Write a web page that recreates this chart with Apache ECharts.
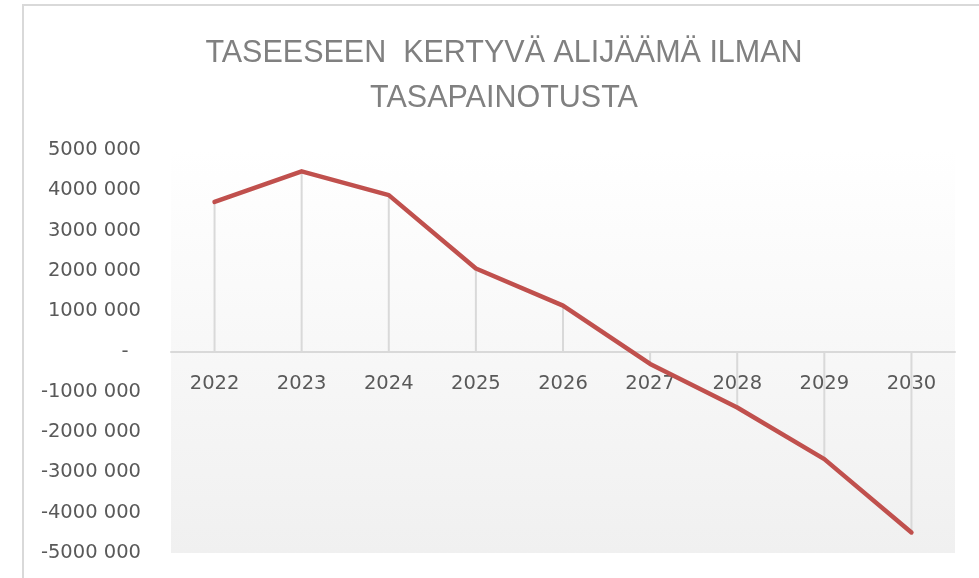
<!DOCTYPE html>
<html>
<head>
<meta charset="utf-8">
<script src="https://cdn.jsdelivr.net/npm/echarts@6/dist/echarts.min.js"></script>
<style>
  html, body { margin: 0; padding: 0; background: #ffffff; }
  #chart { width: 979px; height: 578px; }
</style>
</head>
<body>
<div id="chart"></div>
<script>
// Cumulative deficit on the balance sheet without balancing measures
const years = ['2022', '2023', '2024', '2025', '2026', '2027', '2028', '2029', '2030'];
const deficit = [3710000, 4470000, 3880000, 2060000, 1140000, -310000, -1390000, -2670000, -4490000];
const titleText = 'TASEESEEN  KERTYVÄ ALIJÄÄMÄ ILMAN\nTASAPAINOTUSTA';

// "5000 000", "-1000 000", zero shown as a dash
function formatTick(v) {
  if (v === 0) return '-  ';
  const sign = v < 0 ? '-' : '';
  const a = Math.abs(v);
  const thousands = Math.floor(a / 1000);
  const rest = String(a % 1000).padStart(3, '0');
  return sign + thousands + ' ' + rest;
}

const W = 979, H = 578;
const gridTop = 150, gridBottom = 25;
const plotHeight = H - gridTop - gridBottom;
const yMin = -5000000, yMax = 5000000;
// the category axis sits on the zero line, labels just below it
const zeroOffset = -plotHeight * (0 - yMin) / (yMax - yMin);

const chart = echarts.init(document.getElementById('chart'), null, { renderer: 'canvas', width: W, height: H });
chart.setOption({
  animation: false,
  backgroundColor: '#ffffff',
  title: {
    text: titleText,
    left: 499,
    top: 26,
    textAlign: 'center',
    textStyle: {
      fontFamily: 'Liberation Sans',
      fontWeight: 'normal',
      fontSize: 30.5,
      lineHeight: 45,
      color: '#808080'
    }
  },
  graphic: [{
    type: 'rect',
    shape: { x: 23, y: 5, width: 960, height: 600 },
    style: { fill: 'none', stroke: '#d9d9d9', lineWidth: 2 },
    silent: true,
    z: -1
  }],
  grid: {
    left: 171,
    right: 24,
    top: gridTop,
    bottom: gridBottom,
    outerBoundsMode: 'none',
    containLabel: false,
    show: true,
    borderWidth: 0,
    backgroundColor: {
      type: 'linear', x: 0, y: 0, x2: 0, y2: 1,
      colorStops: [
        { offset: 0, color: '#ffffff' },
        { offset: 1, color: '#f0f0f0' }
      ]
    }
  },
  xAxis: {
    type: 'category',
    data: years,
    boundaryGap: true,
    position: 'bottom',
    offset: zeroOffset,
    axisLine: { onZero: false, lineStyle: { color: '#d9d9d9', width: 2 } },
    axisTick: { show: false },
    axisLabel: {
      margin: 22,
      color: '#595959',
      fontFamily: 'DejaVu Sans',
      fontSize: 19.5
    },
    splitLine: { show: false }
  },
  yAxis: {
    type: 'value',
    min: yMin,
    max: yMax,
    interval: 1000000,
    axisLine: { show: false },
    axisTick: { show: false },
    splitLine: { show: false },
    axisLabel: {
      margin: 30,
      color: '#595959',
      fontFamily: 'DejaVu Sans',
      fontSize: 19.5,
      formatter: formatTick
    }
  },
  series: [
    {
      // drop lines from each point to the zero axis
      type: 'bar',
      data: deficit,
      barWidth: 2,
      itemStyle: { color: '#d9d9d9' },
      silent: true,
      z: 2
    },
    {
      type: 'line',
      data: deficit,
      symbol: 'none',
      lineStyle: { color: '#c0504d', width: 4.5, cap: 'round', join: 'round' },
      z: 3
    }
  ]
});
</script>
</body>
</html>
